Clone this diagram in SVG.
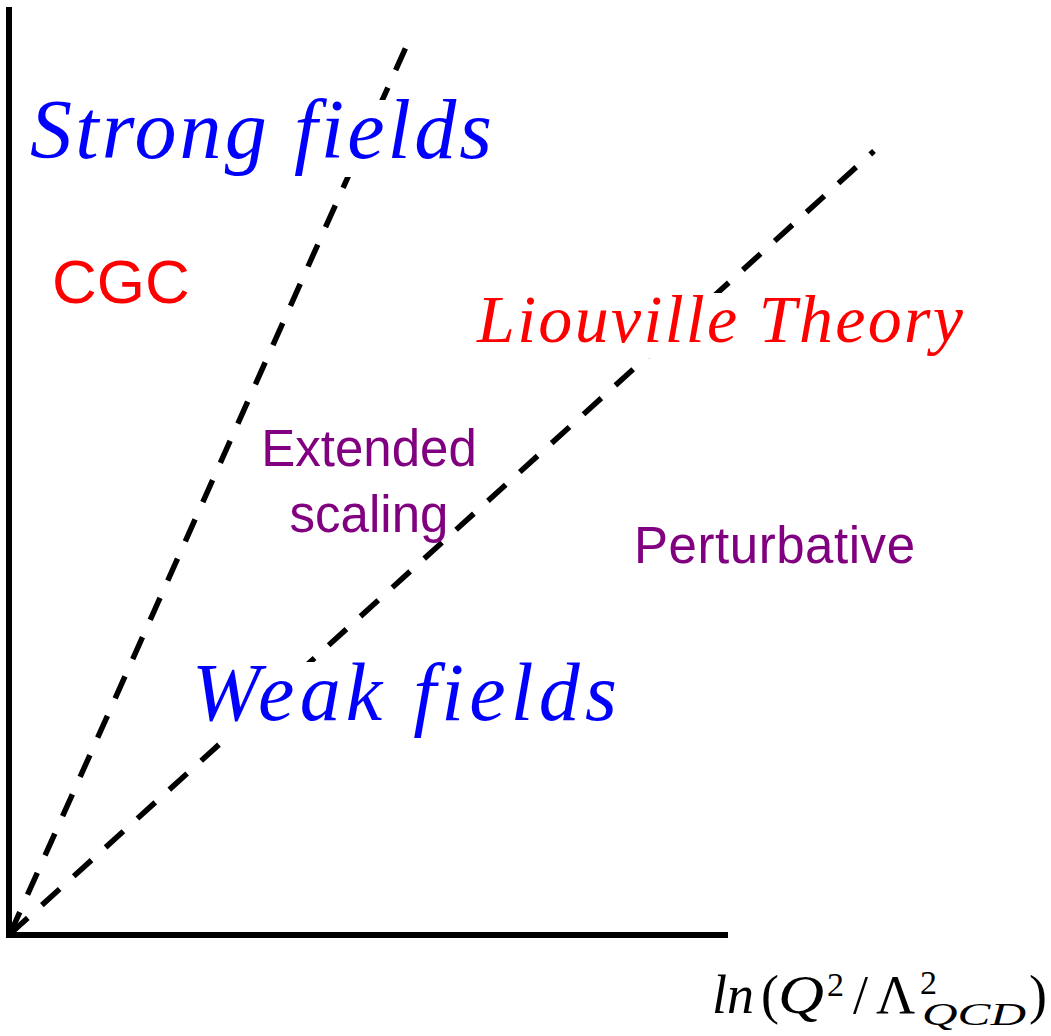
<svg xmlns="http://www.w3.org/2000/svg" width="1051" height="1036" viewBox="0 0 1051 1036">
<style>
.axis{stroke:#000;stroke-width:6;fill:none}
.dash{stroke:#000;stroke-width:5.5;fill:none;stroke-dasharray:24 19}
.bg{fill:#fff}
.math{font-family:"Liberation Serif","Times New Roman",serif;font-style:italic}
.sans{font-family:"Liberation Sans",Arial,sans-serif}
.blue{fill:#0000ff}
.red{fill:#ff0000}
.purple{fill:#800080}
.up{font-style:normal}
</style>
<rect width="1051" height="1036" fill="#fff"/>
<g id="axes">
<line class="axis" x1="9" y1="7" x2="9" y2="938"/>
<line class="axis" x1="6" y1="935" x2="728" y2="935"/>
</g>
<g id="connectors">
<line class="dash" x1="10" y1="934" x2="410" y2="38"/>
<line class="dash" x1="10" y1="934" x2="874" y2="151"/>
</g>
<g id="strong-fields">
<rect class="bg" x="25" y="100" width="472" height="77"/>
<text class="math blue" x="30" y="158" font-size="84" textLength="462" lengthAdjust="spacing">Strong fields</text>
</g>
<g id="cgc">
<text class="sans red" x="52" y="303" font-size="62">CGC</text>
</g>
<g id="liouville">
<rect class="bg" x="470" y="293" width="500" height="65"/>
<text class="math red" x="477" y="342" font-size="68" textLength="486" lengthAdjust="spacing">Liouville Theory</text>
</g>
<g id="extended-scaling">
<text class="sans purple" font-size="51" text-anchor="middle"><tspan x="369" y="466">Extended</tspan><tspan x="369" y="532">scaling</tspan></text>
</g>
<g id="perturbative">
<text class="sans purple" x="634" y="563" font-size="51" textLength="281" lengthAdjust="spacing">Perturbative</text>
</g>
<g id="weak-fields">
<rect class="bg" x="185" y="662" width="440" height="74"/>
<text class="math blue" x="192" y="720" font-size="82" textLength="425" lengthAdjust="spacing">Weak fields</text>
</g>
<g id="x-axis-label">
<text class="math" fill="#000" font-size="54"><tspan x="712" y="1013">ln</tspan><tspan class="up" x="761" y="1013">(</tspan><tspan x="778" y="1013" textLength="46" lengthAdjust="spacingAndGlyphs">Q</tspan><tspan class="up" x="827" y="996" font-size="34">2</tspan><tspan class="up" x="853" y="1013">/</tspan><tspan class="up" x="876" y="1013">Λ</tspan><tspan class="up" x="920" y="994" font-size="34">2</tspan><tspan x="922" y="1025" font-size="31" textLength="104" lengthAdjust="spacingAndGlyphs">QCD</tspan><tspan class="up" x="1029" y="1013">)</tspan></text>
</g>
</svg>
